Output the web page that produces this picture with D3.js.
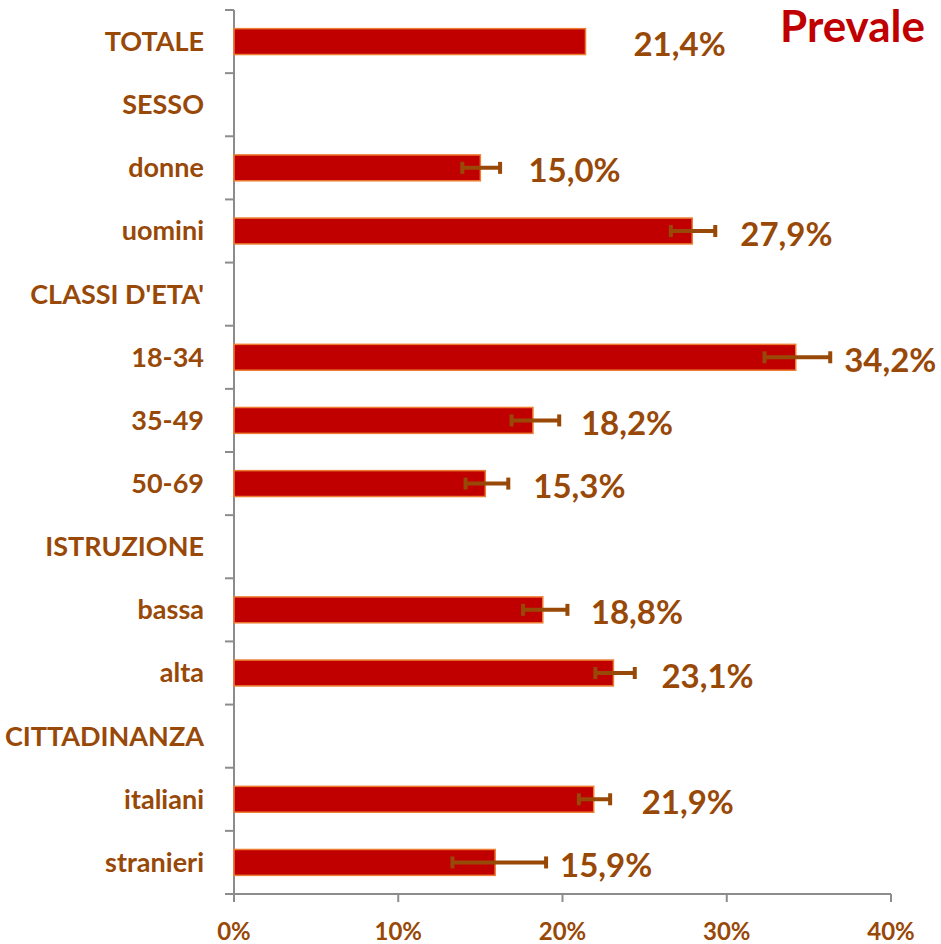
<!DOCTYPE html>
<html>
<head>
<meta charset="utf-8">
<script src="https://cdn.jsdelivr.net/npm/d3@7"></script>
<style>
  body { margin: 0; background: #fff; }
  text { font-family: Lato, "Open Sans", sans-serif; font-weight: bold; fill: #984807; }
  .axis-line { stroke: #8c8c8c; stroke-width: 2; }
</style>
</head>
<body>
<div id="chart"></div>
<script>
// Categories (top to bottom) and values in %
var categories = ["TOTALE", "SESSO", "donne", "uomini", "CLASSI D'ETA'", "18-34", "35-49", "50-69",
                  "ISTRUZIONE", "bassa", "alta", "CITTADINANZA", "italiani", "stranieri"];
var values  = [21.4, null, 15.0, 27.9, null, 34.2, 18.2, 15.3, null, 18.8, 23.1, null, 21.9, 15.9];
var errLow  = [null, null, 13.9, 26.6, null, 32.3, 16.9, 14.1, null, 17.6, 22.0, null, 21.0, 13.3];
var errHigh = [null, null, 16.2, 29.3, null, 36.3, 19.8, 16.7, null, 20.3, 24.4, null, 22.9, 19.0];
var xTicks  = [0, 10, 20, 30, 40];
var title = "Prevale";

var width = 941, height = 944;
var margin = {top: 10, right: 50, bottom: 50, left: 234};

var svg = d3.select("#chart").append("svg")
    .attr("width", width)
    .attr("height", height);

var g = svg.append("g")
    .attr("transform", "translate(" + margin.left + "," + margin.top + ")");

var w = width - margin.left - margin.right,
    h = height - margin.top - margin.bottom;

var data = categories.map(function(c, i) {
    return {cat: c, v: values[i], lo: errLow[i], hi: errHigh[i]};
});

var x = d3.scaleLinear().domain([0, 40]).range([0, 657]);
var y = d3.scaleBand().domain(categories).range([0, h]).padding(0);

var barH = y.bandwidth() * 0.41;

// y axis line + outer ticks at band boundaries
g.append("line").attr("class", "axis-line")
    .attr("x1", 0).attr("x2", 0).attr("y1", 0).attr("y2", h);
var bounds = categories.map(function(c) { return y(c); }).concat([h]);
g.selectAll(".ytick").data(bounds).enter().append("line")
    .attr("class", "axis-line ytick")
    .attr("x1", -9).attr("x2", 0)
    .attr("y1", function(d) { return d; }).attr("y2", function(d) { return d; });

// category labels
g.selectAll(".cat").data(data).enter().append("text")
    .attr("class", "cat")
    .attr("x", -30)
    .attr("y", function(d) { return y(d.cat) + y.bandwidth() / 2; })
    .attr("dy", "0.35em")
    .attr("text-anchor", "end")
    .style("font-size", "27px")
    .text(function(d) { return d.cat; });

// x axis
g.append("line").attr("class", "axis-line")
    .attr("x1", 0).attr("x2", x(40)).attr("y1", h).attr("y2", h);
g.selectAll(".xtick").data(xTicks).enter().append("line")
    .attr("class", "axis-line xtick")
    .attr("x1", function(d) { return x(d); }).attr("x2", function(d) { return x(d); })
    .attr("y1", h).attr("y2", h + 8);
g.selectAll(".xlab").data(xTicks).enter().append("text")
    .attr("x", function(d) { return x(d); })
    .attr("y", h + 46)
    .attr("text-anchor", "middle")
    .style("font-size", "24px")
    .text(function(d) { return d + "%"; });

var withVal = data.filter(function(d) { return d.v != null; });

// bars
g.selectAll(".bar").data(withVal).enter().append("rect")
    .attr("class", "bar")
    .attr("x", 0)
    .attr("y", function(d) { return y(d.cat) + (y.bandwidth() - barH) / 2; })
    .attr("width", function(d) { return x(d.v); })
    .attr("height", barH)
    .attr("fill", "#c00000")
    .attr("stroke", "#ed7d31")
    .attr("stroke-width", 1.5);

// error bars
var withErr = withVal.filter(function(d) { return d.lo != null; });
var eb = g.selectAll(".err").data(withErr).enter().append("g")
    .attr("transform", function(d) { return "translate(0," + (y(d.cat) + y.bandwidth() / 2) + ")"; })
    .attr("stroke", "#984807");
eb.append("line")
    .attr("x1", function(d) { return x(d.lo); }).attr("x2", function(d) { return x(d.hi); })
    .attr("y1", 0).attr("y2", 0).attr("stroke-width", 4);
eb.append("line")
    .attr("x1", function(d) { return x(d.lo); }).attr("x2", function(d) { return x(d.lo); })
    .attr("y1", -6).attr("y2", 6).attr("stroke-width", 4);
eb.append("line")
    .attr("x1", function(d) { return x(d.hi); }).attr("x2", function(d) { return x(d.hi); })
    .attr("y1", -6).attr("y2", 6).attr("stroke-width", 4);

// value labels
g.selectAll(".val").data(withVal).enter().append("text")
    .attr("x", function(d) {
        var a = x(d.v) + 48;
        var b = d.hi != null ? x(d.hi) + 14 : 0;
        return Math.max(a, b);
    })
    .attr("y", function(d) { return y(d.cat) + y.bandwidth() / 2 + 3; })
    .attr("dy", "0.35em")
    .style("font-size", "33px")
    .text(function(d) { return d3.format(".1f")(d.v).replace(".", ",") + "%"; });

// title
svg.append("text")
    .attr("x", 780)
    .attr("y", 42)
    .style("font-size", "44px")
    .style("fill", "#c00000")
    .text(title);
</script>
</body>
</html>
